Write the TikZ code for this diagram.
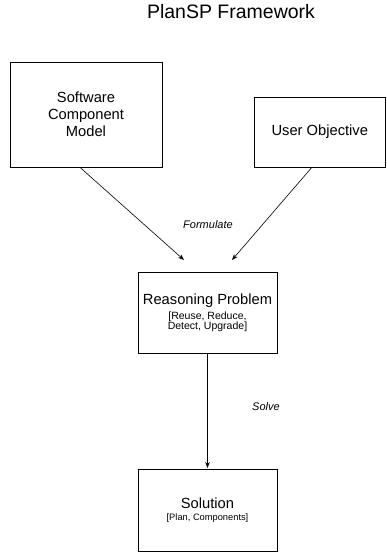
\documentclass[tikz,border=0pt]{standalone}
\usepackage{fontspec}
\setmainfont{Liberation Sans}
\usetikzlibrary{arrows.meta}
\newcommand\subRP{\fontsize{10.5}{10.5}\selectfont}
\newcommand\subSol{\fontsize{9.3}{10}\selectfont}
\begin{document}
\begin{tikzpicture}[x=1pt,y=-1pt,
  box/.style={draw,line width=0.8pt,inner sep=0pt,align=center,font=\fontsize{14.7}{17}\selectfont},
  conn/.style={line width=0.6pt,-{Stealth[length=6pt,width=4.5pt]}},
  lbl/.style={font=\fontsize{11}{13}\selectfont\itshape}]
\useasboundingbox (0,0) rectangle (386,552);
\node[font=\fontsize{19.5}{22}\selectfont] (title) at (231,12) {PlanSP Framework};
\node[box,minimum width=152pt,minimum height=105pt] (scm) at (86,114.5) {Software\\Component\\Model};
\node[box,minimum width=131pt,minimum height=70pt] (uo) at (319.8,132) {User Objective};
\node[box,minimum width=139pt,minimum height=81pt] (rp) at (207.5,312.5)
  {Reasoning Problem\\[-2pt]\subRP [Reuse, Reduce,\\[-7pt]\subRP Detect, Upgrade]};
\node[box,minimum width=139pt,minimum height=82.5pt] (sol) at (207.5,510.2)
  {Solution\\[-4.5pt]\subSol [Plan, Components]};
\coordinate (t1) at (184,260);
\coordinate (t2) at (232,260);
\coordinate (t3) at (207.5,468);
\draw[conn] ([xshift=-6pt]scm.south) -- (t1);
\draw[conn] ([xshift=-8pt]uo.south) -- (t2);
\draw[conn] (rp.south) -- (t3);
\node[lbl] (form) at (208,225) {Formulate};
\node[lbl] (solve) at (266,407) {Solve};
\end{tikzpicture}
\end{document}
